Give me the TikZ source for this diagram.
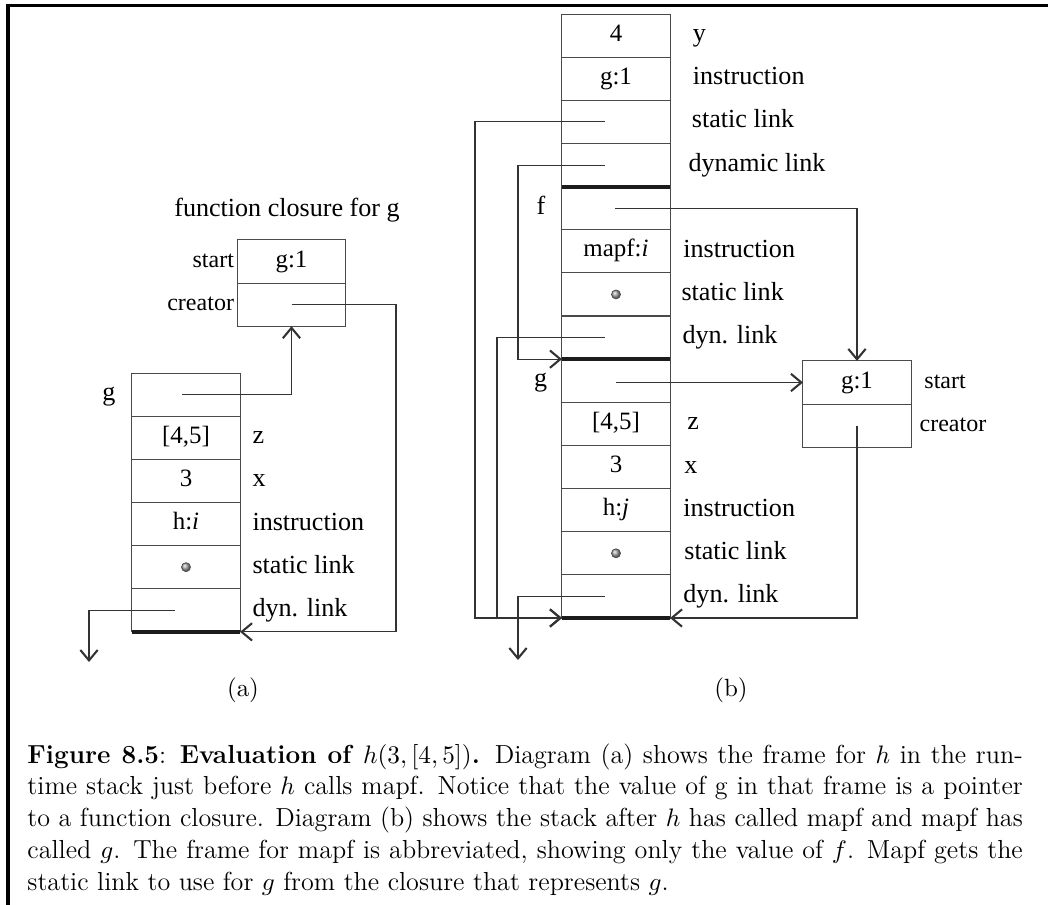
\documentclass[tikz,border=0pt]{standalone}
\usepackage{fontspec}
\usepackage{xcolor}
\usepackage{tikz}
\usetikzlibrary{positioning,arrows.meta,calc}
\newfontfamily\timesfont{Liberation Serif}
\definecolor{StackInk}{HTML}{4A4A4A}
\definecolor{BarInk}{HTML}{1C1C1C}
\definecolor{PtrInk}{HTML}{333333}
\newcommand{\cellfont}{\timesfont\fontsize{10.8}{12}\selectfont}
\newcommand{\slotfont}{\timesfont\fontsize{11.3}{13}\selectfont}
\newcommand{\sidefont}{\timesfont\fontsize{10.4}{12}\selectfont}
\tikzset{
  cell/.style={draw=StackInk, line width=0.45pt, minimum width=46.8pt, minimum height=18.68pt, inner sep=0pt, outer sep=0pt, font=\cellfont, text height=7.2pt, text depth=2.3pt},
  slot/.style={inner sep=0pt, font=\slotfont, text height=7.6pt, text depth=2.4pt},
  side/.style={inner sep=0pt, font=\sidefont, text height=7pt, text depth=2.2pt},
  bar/.style={line width=1.8pt, draw=BarInk},
  ptr/.style={draw=PtrInk, line width=0.45pt},
  ptrarr/.style={ptr, -{Straight Barb[length=4.5pt, width=7.5pt, line width=0.9pt]}},
  ballmark/.style={circle, inner sep=0pt, minimum size=3.9pt, draw=StackInk, line width=0.3pt, shading=ball, ball color=gray!70}
}

\begin{document}
\begin{tikzpicture}[x=0.433pt, y=-0.433pt]
\useasboundingbox (0,0) rectangle (1048,905);
% frame of the figure
\draw[line width=1.3pt, draw=black] (8,905) -- (8,5.5) -- (1048,5.5);

% (a) frame for h and closure for g
\node[slot] (cltitle) at (287,210) {function closure for g};
\node[cell] (ca1) at (291.5,261.5) {g:1};
\node[cell, below=0pt of ca1] (ca2) {};
\node[side, left=1.3pt of ca1] {start};
\node[side, left=1.3pt of ca2] {creator};

\node[cell] (a1) at (186,394.6) {};
\node[cell, below=0pt of a1] (a2) {[4,5]};
\node[cell, below=0pt of a2] (a3) {3};
\node[cell, below=0pt of a3] (a4) {h:\textit{i}};
\node[cell, below=0pt of a4] (a5) {};
\node[cell, below=0pt of a5] (a6) {};
\node[ballmark] at (a5) {};
\draw[bar] (a6.south west) -- (a6.south east);

\node[slot, left=7pt of a1] {g};
\node[slot, right=5.2pt of a2] {z};
\node[slot, right=5.2pt of a3] {x};
\node[slot, right=5.2pt of a4] {instruction};
\node[slot, right=5.2pt of a5] {static link};
\node[slot, right=5.2pt of a6] {dyn. link};

\coordinate (adown) at (89,662);
\draw[ptrarr] ($(a1.center)+(-4,0)$) -| (ca2.south);
\draw[ptrarr] (ca2.center) -- ++(104.5,0) |- (a6.south east);
\draw[ptrarr] ($(a6.center)+(-11,0)$) -| (adown);

\node[font=\fontsize{10.8}{13}\selectfont] (taga) at (243,690) {(a)};

% (b) stack after mapf has called g
\node[cell] (b1) at (616,35.6) {4};
\node[cell, below=0pt of b1] (b2) {g:1};
\node[cell, below=0pt of b2] (b3) {};
\node[cell, below=0pt of b3] (b4) {};
\node[cell, below=0pt of b4] (b5) {};
\node[cell, below=0pt of b5] (b6) {mapf:\textit{i}};
\node[cell, below=0pt of b6] (b7) {};
\node[cell, below=0pt of b7] (b8) {};
\node[cell, below=0pt of b8] (b9) {};
\node[cell, below=0pt of b9] (b10) {[4,5]};
\node[cell, below=0pt of b10] (b11) {3};
\node[cell, below=0pt of b11] (b12) {h:\textit{j}};
\node[cell, below=0pt of b12] (b13) {};
\node[cell, below=0pt of b13] (b14) {};
\node[ballmark] at (b7) {};
\node[ballmark] at (b13) {};
\draw[bar] (b4.south west) -- (b4.south east);
\draw[bar] (b8.south west) -- (b8.south east);
\draw[bar] (b14.south west) -- (b14.south east);

\node[slot, right=9.7pt of b1] {y};
\node[slot, right=9.7pt of b2] {instruction};
\node[slot, right=9.3pt of b3] {static link};
\node[slot, right=7.8pt of b4] {dynamic link};
\node[slot, left=7pt of b5] {f};
\node[slot, right=5.6pt of b6] {instruction};
\node[slot, right=4.8pt of b7] {static link};
\node[slot, right=5.2pt of b8] {dyn. link};
\node[slot, left=6.2pt of b9] {g};
\node[slot, right=7.3pt of b10] {z};
\node[slot, right=6pt of b11] {x};
\node[slot, right=5.6pt of b12] {instruction};
\node[slot, right=6pt of b13] {static link};
\node[slot, right=5.6pt of b14] {dyn. link};

\node[cell] (cb1) at (857,382.5) {g:1};
\node[cell, below=0pt of cb1] (cb2) {};
\node[side, right=5.6pt of cb1] {start};
\node[side, right=3.5pt of cb2] {creator};

\coordinate (bdown) at (518,660);
\draw[ptrarr] ($(b3.center)+(-11,0)$) -- ++(-130,0) |- (b14.south west);
\draw[ptrarr] ($(b4.center)+(-11,0)$) -- ++(-87,0) |- (b8.south west);
\draw[ptrarr] ($(b8.center)+(-11,0)$) -- ++(-108,0) |- (b14.south west);
\draw[ptrarr] ($(b14.center)+(-11,0)$) -| (bdown);
\draw[ptrarr] ($(b5.center)+(-1,0)$) -| (cb1.north);
\draw[ptrarr] (b9.center |- cb1.west) -- (cb1.west);
\draw[ptrarr] (cb2.center) |- (b14.south east);

\node[font=\fontsize{10.8}{13}\selectfont] (tagb) at (731,690) {(b)};

% caption
\node[anchor=north west, text width=431pt, align=justify, inner sep=0pt, font=\fontsize{11.3}{13.8}\selectfont] (caption) at (27,743) {\noindent
\textbf{Figure 8.5}: \textbf{Evaluation of} $h(3,[4,5])$\textbf{.} Diagram (a) shows the frame for $h$ in the run-\linebreak
time stack just before $h$ calls mapf. Notice that the value of g in that frame is a pointer\linebreak
to a function closure. Diagram (b) shows the stack after $h$ has called mapf and mapf has\linebreak
called $g$. The frame for mapf is abbreviated, showing only the value of $f$. Mapf gets the\linebreak
static link to use for $g$ from the closure that represents $g$.};
\end{tikzpicture}
\end{document}
